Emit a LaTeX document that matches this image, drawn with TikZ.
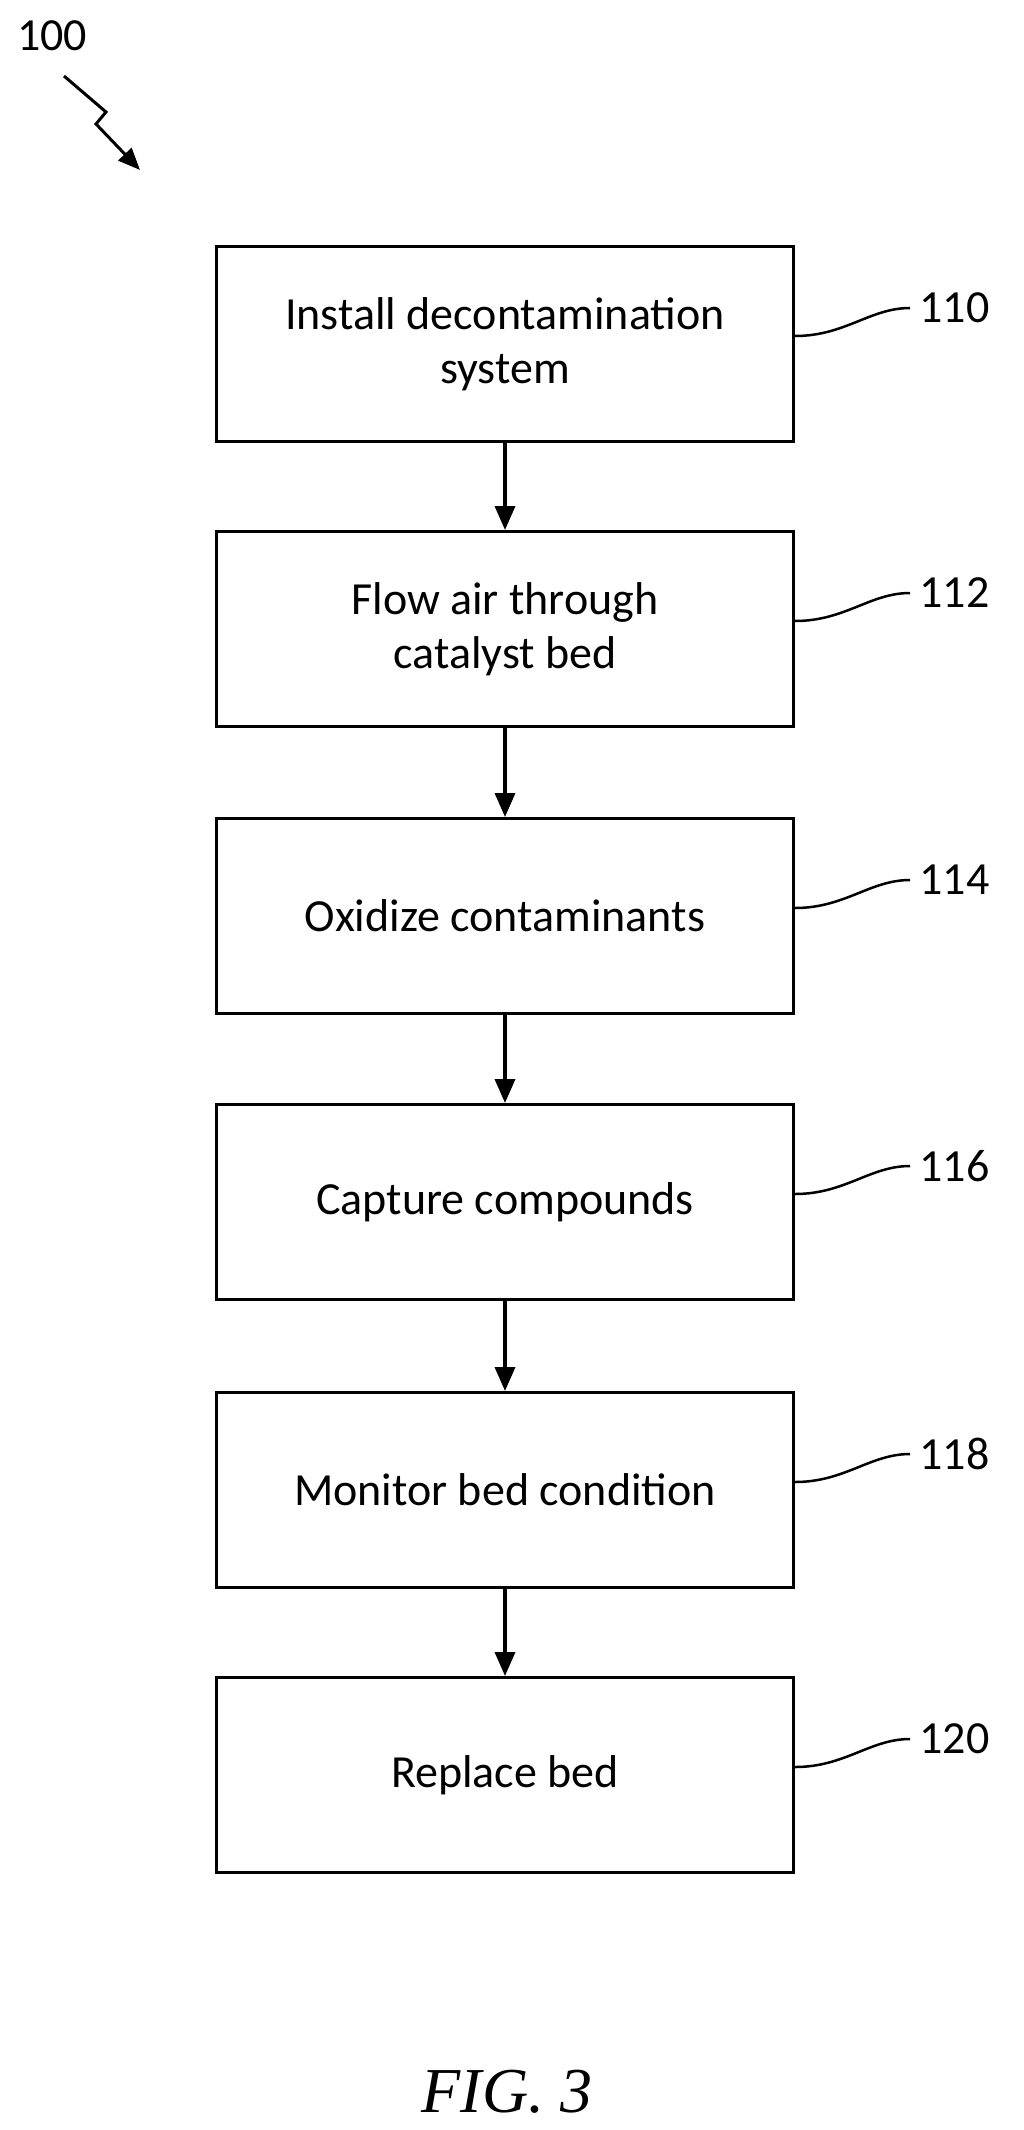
\documentclass[tikz,border=0pt]{standalone}
\usepackage{fontspec}
\setmainfont{Carlito}
\newfontfamily\figfont{Liberation Serif}
\usetikzlibrary{positioning, arrows.meta}
\begin{document}
\begin{tikzpicture}[x=1pt, y=-1pt,
        % process step box
        stage/.style={
            rectangle, draw=black, line width=3pt,
            minimum width=577pt, minimum height=195pt,
            align=center, font=\fontsize{46}{54}\selectfont
        },
        % flow arrow between steps
        flow/.style={draw=black, line width=3.5pt, -{Triangle[length=24pt, width=20pt]}},
        % reference numeral
        ref/.style={font=\fontsize{46}{54}\selectfont, anchor=west},
        lead/.style={draw=black, line width=2.5pt}
    ]
        \useasboundingbox (0,0) rectangle (1024,2130);

        % Steps
        \node[stage] (S110) at (505,344) {Install decontamination\\system};
        \node[stage] (S112) at (505,629) {Flow air through\\catalyst bed};
        \node[stage] (S114) at (505,916) {Oxidize contaminants};
        \node[stage] (S116) at (505,1202) {Capture compounds};
        \node[stage] (S118) at (505,1490) {Monitor bed condition};
        \node[stage] (S120) at (505,1775) {Replace bed};

        % Flow
        \draw[flow] (S110) -- (S112);
        \draw[flow] (S112) -- (S114);
        \draw[flow] (S114) -- (S116);
        \draw[flow] (S116) -- (S118);
        \draw[flow] (S118) -- (S120);

        % Reference numerals with leaders
        \foreach \n in {110,112,114,116,118,120} {
            \coordinate (L\n) at ([yshift=36pt, xshift=115pt]S\n.east);
            \draw[lead] ([yshift=8pt]S\n.east) .. controls +(50,0) and +(-40,0) .. (L\n);
            \node[ref] (N\n) at ([xshift=6pt]L\n) {\n};
        }

        % Figure numeral
        \node[font=\fontsize{46}{54}\selectfont] (N100) at (52,36) {100};
        \coordinate (A100) at (140,170);
        \draw[line width=3pt, -{Triangle[length=22pt, width=18pt]}]
            (64,76) -- (106,112) -- (96,124) -- (A100);

        \node[font=\figfont\itshape\fontsize{64}{72}\selectfont] (FIG) at (507,2092) {FIG. 3};
\end{tikzpicture}
\end{document}
